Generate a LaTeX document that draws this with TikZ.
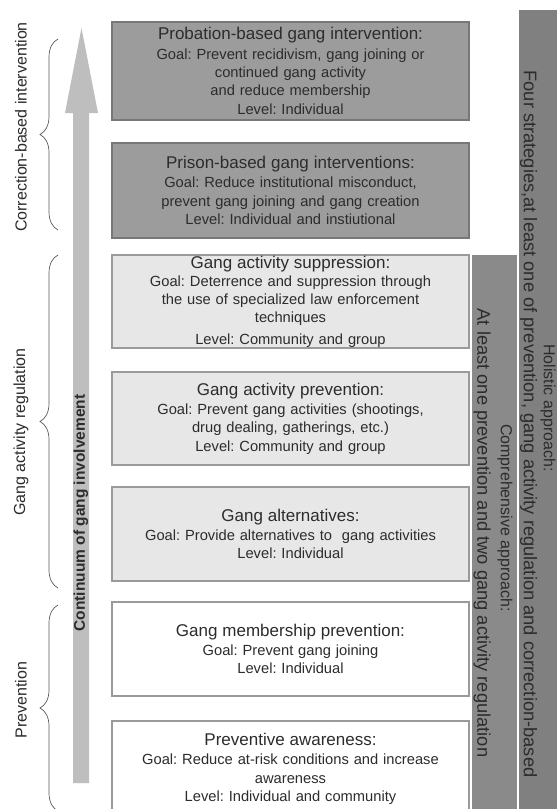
\documentclass[tikz,border=0pt]{standalone}
\usepackage{fontspec}
\setmainfont{Liberation Sans}
\usetikzlibrary{decorations.pathreplacing}
\frenchspacing
\definecolor{darkfill}{HTML}{9C9C9C}
\definecolor{darkline}{HTML}{777777}
\definecolor{lightfill}{HTML}{E7E7E7}
\definecolor{lightline}{HTML}{9A9A9A}
\definecolor{holfill}{HTML}{808080}
\definecolor{compfill}{HTML}{8A8A8A}
\definecolor{arrowfill}{HTML}{BEBEBE}
\definecolor{txt}{HTML}{2C2C2C}
\definecolor{bracecol}{HTML}{5A5A5A}
\newcommand\titlef{\fontsize{17}{19}\selectfont}
\newcommand\goalf{\fontsize{14.7}{18.3}\selectfont}
\newcommand\sidef{\fontsize{16}{18}\selectfont}
\newcommand\barbigf{\fontsize{18.3}{20}\selectfont}
\tikzset{
  stratbox/.style={draw, line width=1.2pt, minimum width=357pt, text width=350pt,
    align=center, inner sep=0pt, font=\goalf, text=txt},
  darkbox/.style={stratbox, fill=darkfill, draw=darkline},
  lightbox/.style={stratbox, fill=lightfill, draw=lightline},
  whitebox/.style={stratbox, fill=white, draw=lightline},
  sidelabel/.style={rotate=90, font=\sidef, text=txt, inner sep=0pt},
  bartext/.style={rotate=-90, text=txt, inner sep=0pt},
  bracestyle/.style={draw=bracecol, line width=0.7pt, decorate,
    decoration={brace, amplitude=18pt}},
}
\begin{document}
\begin{tikzpicture}[x=1pt,y=-1pt]
\useasboundingbox (0,0) rectangle (557,809);
\clip (0,0) rectangle (557,809);
\fill[white] (0,0) rectangle (557,809);

% arrow
\fill[arrowfill] (73,783) -- (73,113) -- (65,113) -- (81.5,28) -- (98,113) -- (89,113) -- (89,783) -- cycle;
\node[rotate=90, font=\bfseries\fontsize{15.5}{18}\selectfont, text=txt, inner sep=0pt] (continuum) at (81,513) {Continuum of gang involvement};

% boxes
\node[darkbox, minimum height=98pt] (probation) at (290.5,71)
 {{\titlef Probation-based gang intervention:}\\[1pt]
  Goal: Prevent recidivism, gang joining or\\
  continued gang activity\\
  and reduce membership\\
  Level: Individual};
\node[darkbox, minimum height=95pt] (prison) at (290.5,190.5)
 {{\titlef Prison-based gang interventions:}\\[1pt]
  Goal: Reduce institutional misconduct,\\
  prevent gang joining and gang creation\\
  Level: Individual and instiutional};
\node[lightbox, minimum height=93pt] (suppression) at (290.5,301.5)
 {{\titlef Gang activity suppression:}\\[0pt]
  Goal: Deterrence and suppression through\\
  the use of specialized law enforcement\\
  techniques\\[3pt]
  Level: Community and group};
\node[lightbox, minimum height=93pt] (actprev) at (290.5,418.5)
 {{\titlef Gang activity prevention:}\\[1pt]
  Goal: Prevent gang activities (shootings,\\
  drug dealing, gatherings, etc.)\\
  Level: Community and group};
\node[lightbox, minimum height=94pt] (alternatives) at (290.5,534)
 {{\titlef Gang alternatives:}\\[1pt]
  Goal: Provide alternatives to\ \ gang activities\\
  Level: Individual};
\node[whitebox, minimum height=94pt] (membership) at (290.5,649)
 {{\titlef Gang membership prevention:}\\[0pt]
  Goal: Prevent gang joining\\
  Level: Individual};
\node[whitebox, minimum height=96pt] (awareness) at (290.5,769)
 {{\titlef Preventive awareness:}\\[1pt]
  Goal: Reduce at-risk conditions and increase\\
  awareness\\
  Level: Individual and community};

% right bars
\node[fill=compfill, minimum width=45pt, minimum height=560pt, inner sep=0pt, anchor=north west] (comprehensive) at (472,255) {};
\node[fill=holfill, minimum width=38pt, minimum height=805pt, inner sep=0pt, anchor=north west] (holistic) at (519,10) {};
\node[bartext, font=\sidef] (holhead) at (548,408) {Holistic approach:};
\node[bartext, font=\barbigf] (holbody) at (528.5,424) {Four strategies,at least one of prevention, gang activity regulation and correction-based};
\node[bartext, font=\sidef] (comphead) at (505,518) {Comprehensive approach:};
\node[bartext, font=\barbigf] (compbody) at (482,533) {At least one prevention and two gang activity regulation};

% left labels
\node[sidelabel] (lcorr) at (21,127) {Correction-based intervention};
\node[sidelabel] (lgang) at (21,432) {Gang activity regulation};
\node[sidelabel] (lprev) at (21,700) {Prevention};

% braces
\coordinate (corrB) at (58,230); \coordinate (corrT) at (58,39);
\coordinate (gangB) at (58,588); \coordinate (gangT) at (58,255);
\coordinate (prevB) at (58,811); \coordinate (prevT) at (58,605);
\draw[bracestyle] (corrB) -- (corrT);
\draw[bracestyle] (gangB) -- (gangT);
\draw[bracestyle] (prevB) -- (prevT);
\end{tikzpicture}
\end{document}
